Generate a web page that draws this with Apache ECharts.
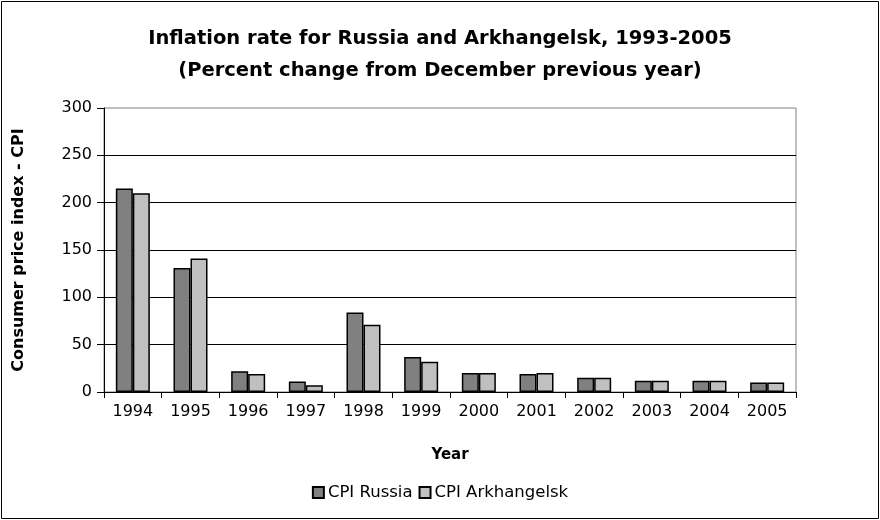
<!DOCTYPE html>
<html>
<head>
<meta charset="utf-8">
<title>Inflation rate</title>
<script src="https://cdn.jsdelivr.net/npm/echarts@6/dist/echarts.min.js"></script>
<style>
  html, body, #main { width: 880px; height: 520px; margin: 0; padding: 0; background: #fff; }
</style>
</head>
<body>
<div id="main"></div>
<script>
var years = ['1994', '1995', '1996', '1997', '1998', '1999', '2000', '2001', '2002', '2003', '2004', '2005'];
var cpiRussia = [215, 131, 22, 11, 84, 37, 20, 19, 15, 12, 12, 10];
var cpiArkh = [210, 141, 19, 7, 71, 32, 20, 20, 15, 12, 12, 10];

var font = 'DejaVu Sans, sans-serif';
var chart = echarts.init(document.getElementById('main'));

chart.setOption({
  animation: false,
  textStyle: { fontFamily: font },
  title: {
    text: 'Inflation rate for Russia and Arkhangelsk, 1993-2005\n(Percent change from December previous year)',
    left: 'center',
    top: 18,
    textStyle: { fontSize: 19.5, fontWeight: 'bold', color: '#000', lineHeight: 32, fontFamily: font }
  },
  graphic: [{
    type: 'rect',
    shape: { x: 1.5, y: 1.5, width: 877, height: 517 },
    style: { fill: 'none', stroke: '#000', lineWidth: 1 },
    silent: true
  }],
  legend: {
    bottom: 14,
    left: 'center',
    itemWidth: 11,
    itemHeight: 11,
    itemGap: 6,
    icon: 'rect',
    textStyle: { fontSize: 16.5, color: '#000', fontFamily: font, padding: [0, 0, 0, -1] },
    data: ['CPI Russia', 'CPI Arkhangelsk']
  },
  grid: {
    left: 104, right: 84, top: 108, bottom: 128,
    show: true, borderColor: '#808080', borderWidth: 1
  },
  xAxis: {
    type: 'category',
    data: years,
    name: 'Year',
    nameLocation: 'middle',
    nameGap: 56,
    nameTextStyle: { fontSize: 15, fontWeight: 'bold', color: '#000' },
    axisLine: { lineStyle: { color: '#000' } },
    axisTick: { show: true, length: 6, lineStyle: { color: '#000' } },
    axisLabel: { fontSize: 16, color: '#000', margin: 12 }
  },
  yAxis: {
    type: 'value',
    min: 0, max: 300, interval: 50,
    name: 'Consumer price index - CPI',
    nameLocation: 'middle',
    nameGap: 77,
    nameTextStyle: { fontSize: 16, fontWeight: 'bold', color: '#000' },
    axisLine: { show: true, lineStyle: { color: '#000' } },
    axisTick: { show: true, length: 7, lineStyle: { color: '#000' } },
    axisLabel: { fontSize: 16, color: '#000', margin: 12 },
    splitLine: { show: true, showMaxLine: false, lineStyle: { color: '#000', width: 1 } }
  },
  series: [
    {
      name: 'CPI Russia',
      type: 'bar',
      data: cpiRussia,
      barWidth: 17,
      barGap: '0%',
      itemStyle: { color: '#808080', borderColor: '#000', borderWidth: 1.5 }
    },
    {
      name: 'CPI Arkhangelsk',
      type: 'bar',
      data: cpiArkh,
      barWidth: 17,
      barGap: '0%',
      itemStyle: { color: '#c0c0c0', borderColor: '#000', borderWidth: 1.5 }
    }
  ]
});
</script>
</body>
</html>
